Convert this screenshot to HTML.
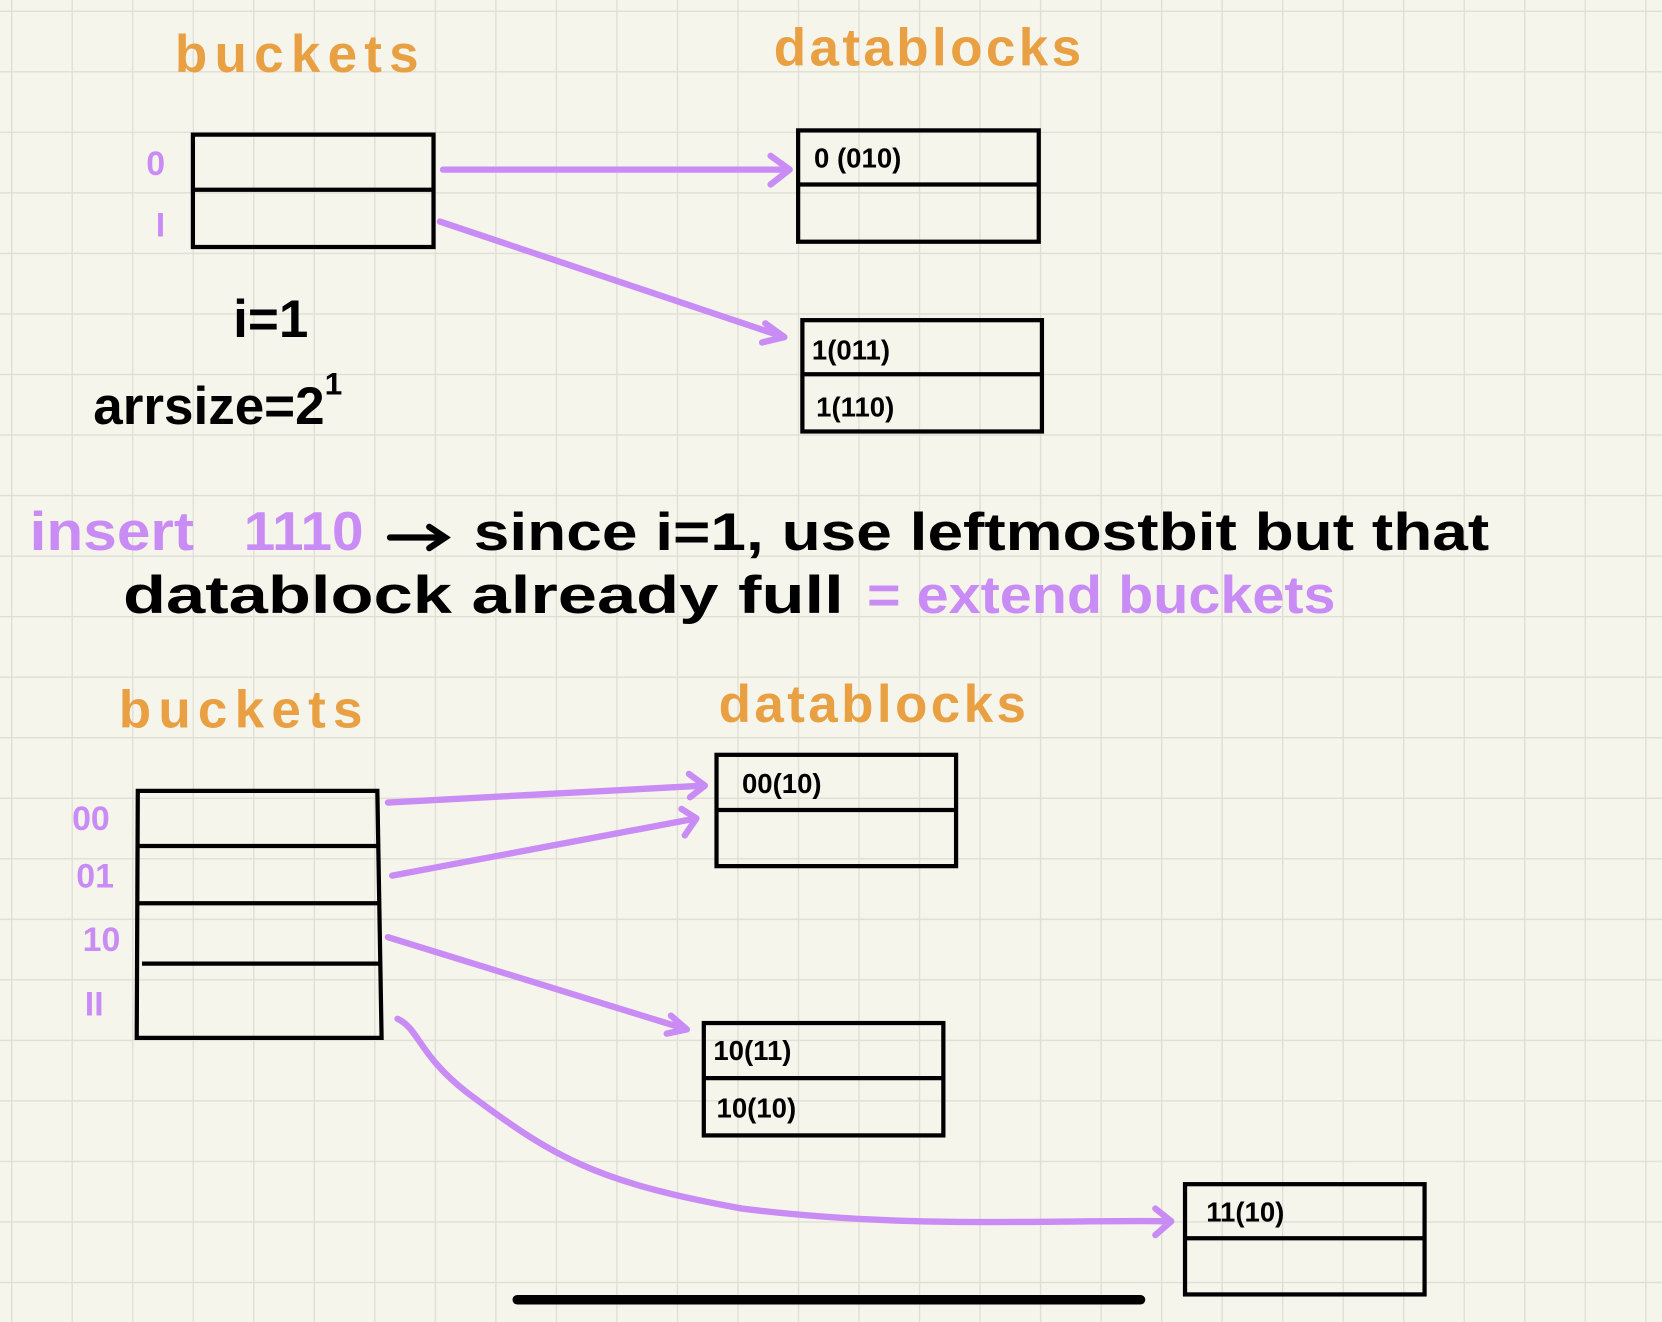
<!DOCTYPE html>
<html><head><style>
html,body{margin:0;padding:0;background:#f6f5ec;}
svg{display:block;}
text{font-family:"Liberation Sans",sans-serif;font-weight:bold;}
</style></head><body>
<svg width="1662" height="1322" viewBox="0 0 1568 1247" preserveAspectRatio="none">
<defs>
<pattern id="g" x="10.4" y="10" width="57.1" height="57.1" patternUnits="userSpaceOnUse">
<path d="M0 0V57.1M0 0H57.1" stroke="#dfded4" stroke-width="2.5" fill="none"/>
</pattern>
</defs>
<rect width="1568" height="1247" fill="#f6f5ec"/>
<rect width="1568" height="1247" fill="url(#g)"/>

<g fill="#e9a043" font-size="50">
<text x="165" y="68" textLength="230" lengthAdjust="spacing">buckets</text>
<text x="730" y="62" textLength="290" lengthAdjust="spacing">datablocks</text>
<text x="112" y="686" textLength="230" lengthAdjust="spacing">buckets</text>
<text x="678" y="681" textLength="290" lengthAdjust="spacing">datablocks</text>
</g>

<g fill="none" stroke="#000" stroke-width="4">
<rect x="182" y="127" width="227" height="106"/><line x1="182" y1="179" x2="409" y2="179"/>
<rect x="753" y="123" width="227" height="105"/><line x1="753" y1="174" x2="980" y2="174"/>
<rect x="757" y="302" width="226" height="105"/><line x1="757" y1="353" x2="983" y2="353"/>
<path d="M130 746H356L360 979H129Z"/>
<line x1="130" y1="798" x2="357" y2="798"/><line x1="130" y1="852" x2="357" y2="852"/><line x1="134" y1="909" x2="358" y2="909"/>
<rect x="676" y="712" width="226" height="105"/><line x1="676" y1="764" x2="902" y2="764"/>
<rect x="664" y="965" width="226" height="106"/><line x1="664" y1="1017" x2="890" y2="1017"/>
<rect x="1118" y="1117" width="226" height="104"/><line x1="1118" y1="1168" x2="1344" y2="1168"/>
</g>
<line x1="488" y1="1226" x2="1076" y2="1226" stroke="#000" stroke-width="9" stroke-linecap="round"/>

<g fill="none" stroke="#c98cf5" stroke-width="6" stroke-linecap="round" stroke-linejoin="round">
<path d="M418 160H745M727 147L745 160L727 174"/>
<path d="M415 209L740 318M722 305L740 318L719 323"/>
<path d="M366 757L665 741M650 730L665 741L651 752"/>
<path d="M370 826L657 772M643 763L657 772L646 788"/>
<path d="M366 884L648 971M633 958L648 971L629 975"/>
<path d="M375 961C395 970 395 995 440 1030C520 1090 560 1115 700 1140C860 1160 1000 1150 1105 1152M1090 1140L1105 1152L1090 1165"/>
</g>

<g fill="#c98cf5" font-size="32" font-weight="normal">
<text x="138" y="165">0</text><text x="147" y="223">I</text>
<text x="68" y="783">00</text><text x="72" y="837">01</text>
<text x="78" y="897">10</text><text x="80" y="958">II</text>
</g>

<g fill="#000" font-size="26">
<text x="768" y="158">0 (010)</text>
<text x="766" y="339">1(011)</text>
<text x="770" y="393">1(110)</text>
<text x="700" y="748">00(10)</text>
<text x="673" y="1000">10(11)</text>
<text x="676" y="1054">10(10)</text>
<text x="1138" y="1152">11(10)</text>
</g>

<g fill="#000" font-size="50">
<text x="220" y="318">i=1</text>
<text x="88" y="400">arrsize=2<tspan font-size="30" dy="-28">1</tspan></text>
</g>

<text x="28" y="519" font-size="52" fill="#c98cf5" textLength="155" lengthAdjust="spacingAndGlyphs">insert</text>
<text x="230" y="519" font-size="52" fill="#c98cf5" textLength="113" lengthAdjust="spacingAndGlyphs">1110</text>
<path d="M368 507H418M405 497L420 507L405 517" stroke="#000" stroke-width="6" fill="none" stroke-linecap="round"/>
<text x="447" y="519" font-size="50" fill="#000" textLength="958" lengthAdjust="spacingAndGlyphs">since i=1, use leftmostbit but that</text>
<text x="116" y="578" font-size="50" fill="#000" textLength="680" lengthAdjust="spacingAndGlyphs">datablock already full</text>
<text x="818" y="578" font-size="50" fill="#c98cf5" textLength="442" lengthAdjust="spacingAndGlyphs">= extend buckets</text>
</svg>
</body></html>
